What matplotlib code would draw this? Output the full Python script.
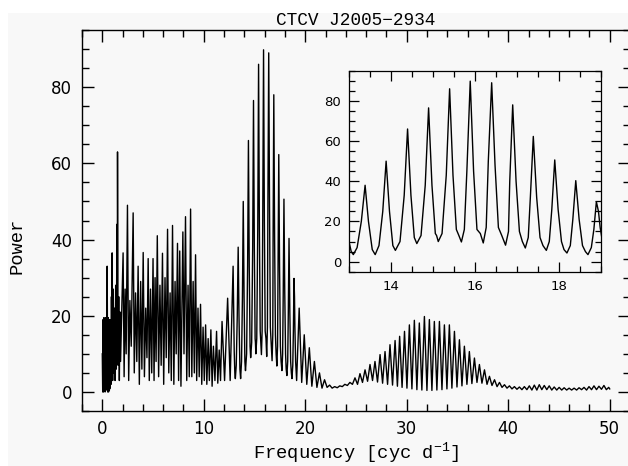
import numpy as np
import matplotlib
matplotlib.use("Agg")
import matplotlib.pyplot as plt
from matplotlib.ticker import MultipleLocator
from matplotlib.patches import Rectangle

# ---------------- data ----------------
# low-frequency part (0 - 12.9 cyc/d): vertices of the curve
low_freq = [0.00, 0.04, 0.08, 0.12, 0.16, 0.20, 0.24, 0.28, 0.32, 0.36, 0.40, 0.44,
            0.48, 0.53, 0.58, 0.62, 0.66, 0.70, 0.74, 0.78, 0.82, 0.86, 0.90, 0.95,
            0.97, 1.02, 1.08, 1.14, 1.20, 1.26, 1.32, 1.38, 1.44, 1.47, 1.50, 1.56,
            1.62, 1.68, 1.74, 1.80,
            2.05, 2.15, 2.25, 2.35, 2.48, 2.60, 2.72, 2.85, 3.04, 3.15, 3.28, 3.40,
            3.53, 3.65, 3.78, 3.90, 4.03, 4.15, 4.28, 4.40, 4.52, 4.63, 4.75, 4.87,
            5.00, 5.10, 5.20, 5.30, 5.42, 5.55, 5.68, 5.80, 5.93, 6.05, 6.18, 6.30,
            6.43, 6.55, 6.68, 6.80, 6.92, 7.05, 7.17, 7.28, 7.41, 7.52, 7.63, 7.75,
            7.94, 8.05, 8.20, 8.32, 8.45, 8.57, 8.70, 8.82, 8.95, 9.07, 9.19, 9.30,
            9.43, 9.55, 9.68, 9.80, 9.93, 10.05, 10.18, 10.30, 10.43, 10.55, 10.70,
            10.82, 10.95, 11.10, 11.26, 11.38, 11.52, 11.65, 11.80, 12.05, 12.35,
            12.60, 12.89]
low_power = [10, 0, 19, 0, 19.5, 0.5, 19, 0, 19.5, 1, 18, 0.5,
             33, 0, 19.5, 0, 19, 0.5, 19, 1, 18, 2, 25, 4,
             36.5, 3, 27, 5, 22, 3, 28, 6, 44, 8, 63, 7,
             25, 3, 21, 8,
             36.5, 4, 27, 10, 49, 3, 24, 12, 47, 5, 26, 8,
             33, 2, 29, 6, 36.6, 4, 22, 9, 35, 3, 27, 5,
             35, 3, 30, 8, 41, 4, 28, 7, 36.4, 2, 30, 9,
             42.7, 5, 26, 3, 43.7, 2, 29, 10, 39, 3, 37, 1.5,
             42, 10, 46, 3, 28, 4, 48, 4, 29, 5, 36, 3,
             22, 4, 23, 2, 17, 3, 17.6, 2, 14, 3, 16.3,
             1.5, 12, 3, 15.9, 2.3, 11, 3, 18.5, 3, 24.6,
             3, 33]

# strongest group (13 - 19.2 cyc/d), also shown in the inset
mid_freq = [13.00, 13.06, 13.11, 13.20, 13.30, 13.39, 13.47, 13.56, 13.63,
            13.72, 13.81, 13.89, 13.97, 14.05, 14.11,
            14.22, 14.32, 14.40, 14.48, 14.56, 14.62,
            14.72, 14.82, 14.90, 14.98, 15.06, 15.09, 15.13,
            15.22, 15.32, 15.40, 15.48, 15.56, 15.62, 15.68,
            15.75, 15.81, 15.89, 15.97, 16.05, 16.13, 16.20,
            16.27, 16.32, 16.40, 16.48, 16.56, 16.64, 16.73,
            16.80, 16.83, 16.90, 16.98, 17.06, 17.13, 17.20,
            17.27, 17.32, 17.39, 17.47, 17.55, 17.62, 17.70,
            17.77, 17.83, 17.90, 17.98, 18.06, 18.12, 18.19,
            18.27, 18.33, 18.40, 18.48, 18.56, 18.63, 18.69,
            18.77, 18.83, 18.89, 18.94, 18.98, 19.05, 19.15]
mid_power = [10.6, 5, 3.5, 7, 20, 38, 20, 6, 3.5,
             8, 25, 50, 25, 8, 5.6,
             10, 33, 66, 33, 12, 9,
             13, 38, 76.5, 38, 14, 13, 10,
             14, 43, 86, 43, 16, 13, 9.8,
             16, 45, 89.8, 45, 16, 14, 9.3,
             17, 50, 89, 48, 17, 13, 8.2,
             15, 40, 78, 40, 15, 10, 6.8,
             12, 32, 62.3, 32, 12, 8, 5.6,
             10, 26, 50.6, 26, 10, 6, 4.3,
             8, 21, 40.3, 21, 8, 5, 3.5,
             7, 16, 29.8, 25, 17, 8, 3]

# high-frequency part (19.4 - 50 cyc/d): alias peaks and the troughs after them
hi_peak_freq = [19.40, 19.90, 20.40, 20.90, 21.40, 21.90, 22.40, 22.90, 23.40, 23.90, 24.40, 24.90,
                25.39, 25.89, 26.38, 26.87, 27.37, 27.86, 28.35, 28.85, 29.30, 29.78,
                30.26, 30.75, 31.24, 31.74, 32.23, 32.72, 33.22, 33.71, 34.20, 34.70,
                35.19, 35.68, 36.17, 36.67, 37.16, 37.66, 38.15, 38.65, 39.14, 39.63,
                40.12, 40.61, 41.10, 41.59, 42.08, 42.57, 43.06, 43.55, 44.04, 44.53,
                45.02, 45.51, 46.00, 46.49, 46.98, 47.47, 47.96, 48.45, 48.94, 49.43, 49.90]
hi_peak_power = [22, 15, 11.6, 8, 5, 3.2, 1.8, 1.4, 1.6, 2.0, 2.5, 3.7,
                 4.8, 5.8, 7.2, 8.0, 9.8, 10.6, 12.4, 13.5, 14.6, 15.9,
                 17.6, 18.8, 18.1, 19.8, 19.0, 18.5, 18.5, 17.6, 17.6, 15.9,
                 13.7, 12.0, 10.6, 8.9, 7.2, 5.8, 4.1, 3.2, 2.5, 1.9,
                 1.6, 1.4, 1.3, 1.4, 1.6, 1.8, 1.9, 1.7, 1.6, 1.3,
                 1.2, 1.1, 1.0, 1.0, 1.1, 1.2, 1.4, 1.6, 1.5, 1.7, 1.2]
hi_trough_freq = [19.65, 20.15, 20.65, 21.15, 21.65, 22.15, 22.65, 23.15, 23.65, 24.15, 24.65, 25.15,
                  25.64, 26.14, 26.63, 27.12, 27.62, 28.11, 28.60, 29.08, 29.54, 30.02,
                  30.51, 31.00, 31.49, 31.99, 32.48, 32.97, 33.47, 33.96, 34.45, 34.95,
                  35.44, 35.93, 36.42, 36.92, 37.41, 37.91, 38.40, 38.90, 39.39, 39.88,
                  40.37, 40.86, 41.35, 41.84, 42.33, 42.82, 43.31, 43.80, 44.29, 44.78,
                  45.27, 45.76, 46.25, 46.74, 47.23, 47.72, 48.21, 48.70, 49.19, 49.67, 50.00]
hi_trough_power = [2.5, 2.0, 1.5, 1.2, 1.0, 1.2, 1.0, 1.1, 1.4, 1.7, 2.0, 2.0,
                   2.5, 2.8, 3.0, 2.6, 2.3, 2.0, 1.8, 1.5, 1.2, 1.0,
                   0.8, 0.6, 0.5, 0.4, 0.4, 0.5, 0.6, 0.8, 1.0, 1.3,
                   1.6, 2.0, 2.2, 2.5, 2.3, 2.0, 1.7, 1.4, 1.2, 1.0,
                   0.8, 0.7, 0.6, 0.6, 0.5, 0.5, 0.6, 0.6, 0.5, 0.5,
                   0.5, 0.5, 0.5, 0.5, 0.6, 0.5, 0.6, 0.6, 0.7, 0.6, 0.8]

title_text = "CTCV J2005\u22122934"
xlabel_text = r"Frequency [cyc d$^{\mathrm{-1}}$]"
ylabel_text = "Power"

# ---------------- assemble curve ----------------
hi_freq = np.column_stack([hi_peak_freq, hi_trough_freq]).ravel()
hi_power = np.column_stack([hi_peak_power, hi_trough_power]).ravel()
freq = np.concatenate([low_freq, mid_freq, hi_freq])
power = np.concatenate([low_power, mid_power, hi_power])

# ---------------- figure ----------------
plt.rcParams['mathtext.fontset'] = 'custom'
plt.rcParams['mathtext.rm'] = 'Liberation Mono'
plt.rcParams['font.family'] = ['DejaVu Sans']

W, H = 628, 466
bgcol = '#f8f8f8'
fig = plt.figure(figsize=(W / 100, H / 100), dpi=100)
fig.patch.set_facecolor('white')
fig.patches.append(Rectangle((8 / W, 0), 1, (H - 13) / H, transform=fig.transFigure,
                             facecolor=bgcol, edgecolor='none', zorder=-10))

def px_axes(l, t, r, b):
    return [l / W, (H - b) / H, (r - l) / W, (b - t) / H]

ax = fig.add_axes(px_axes(82, 30, 630, 411))
ax.set_facecolor(bgcol)
ax.plot(freq, power, color='black', lw=1.0)
ax.set_xlim(-2, 52)
ax.set_ylim(-5, 95)
ax.xaxis.set_major_locator(MultipleLocator(10))
ax.xaxis.set_minor_locator(MultipleLocator(2))
ax.yaxis.set_major_locator(MultipleLocator(20))
ax.yaxis.set_minor_locator(MultipleLocator(5))
ax.tick_params(which='both', direction='in', top=True, right=True, width=1.0,
               labelsize=12, colors='black')
ax.tick_params(which='major', length=8.8)
ax.tick_params(which='minor', length=5)
ax.tick_params(axis='x', pad=6.3)
ax.tick_params(axis='y', pad=7.2)
for s in ax.spines.values():
    s.set_linewidth(1.0)

# inset
axi = fig.add_axes(px_axes(348.7, 70.7, 601, 271.7))
axi.set_facecolor(bgcol)
axi.plot(freq, power, color='black', lw=1.0)
axi.set_xlim(13, 19)
axi.set_ylim(-5, 95)
axi.xaxis.set_major_locator(MultipleLocator(2))
axi.xaxis.set_minor_locator(MultipleLocator(0.5))
axi.yaxis.set_major_locator(MultipleLocator(20))
axi.yaxis.set_minor_locator(MultipleLocator(5))
axi.tick_params(which='both', direction='in', top=True, right=True, width=0.9,
                labelsize=9.5, colors='black')
axi.tick_params(which='major', length=7)
axi.tick_params(which='minor', length=4)
axi.tick_params(axis='x', pad=6)
axi.tick_params(axis='y', pad=5.5)
for s in axi.spines.values():
    s.set_linewidth(0.9)

fig.text(356 / W, (H - 25) / H, title_text, family='Liberation Mono', fontsize=12.8,
         ha='center', va='baseline')
fig.text(356.5 / W, (H - 459) / H, xlabel_text, family='Liberation Mono', fontsize=13.5,
         ha='center', va='baseline')
fig.text(17 / W, 220.5 / H, ylabel_text, family='Liberation Mono', fontsize=13.5,
         ha='center', va='center', rotation=90)

fig.savefig('out.png', dpi=100, facecolor=fig.get_facecolor())
